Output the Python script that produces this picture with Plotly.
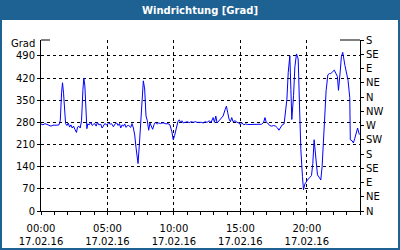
import plotly.graph_objects as go
import pandas as pd

# ---- data ----
hours = [0.0, 0.15, 0.3, 0.45, 0.6, 0.75, 0.9, 1.05, 1.2, 1.35, 1.45, 1.55, 1.62, 1.7, 1.78, 1.85,
         1.95, 2.05, 2.15, 2.25, 2.35, 2.45, 2.55, 2.67, 2.75, 2.85, 2.95, 3.05, 3.15, 3.22, 3.3, 3.38,
         3.45, 3.52, 3.62, 3.75, 3.85, 3.95, 4.05, 4.15, 4.25, 4.35, 4.5, 4.6, 4.7, 4.8, 4.95, 5.1,
         5.2, 5.3, 5.45, 5.55, 5.7, 5.8, 5.9, 6.0, 6.1, 6.2, 6.3, 6.4, 6.5, 6.6, 6.75, 6.85, 6.95,
         7.05, 7.15, 7.3, 7.4, 7.5, 7.6, 7.7, 7.8, 7.9, 8.0, 8.1, 8.2, 8.3, 8.4, 8.5, 8.6, 8.75, 8.85,
         9.0, 9.1, 9.25, 9.4, 9.55, 9.7, 9.85, 9.95, 10.05, 10.15, 10.3, 10.4, 10.5, 10.6, 10.7, 10.85,
         11.0, 11.15, 11.3, 11.45, 11.6, 11.75, 11.9, 12.05, 12.2, 12.35, 12.5, 12.65, 12.8, 12.95,
         13.05, 13.15, 13.25, 13.4, 13.55, 13.7, 13.85, 13.95, 14.05, 14.15, 14.25, 14.35, 14.45,
         14.6, 14.75, 14.9, 15.0, 15.1, 15.25, 15.4, 15.55, 15.7, 15.85, 16.0, 16.15, 16.3, 16.45,
         16.6, 16.75, 16.85, 16.95, 17.05, 17.2, 17.35, 17.5, 17.65, 17.8, 17.9, 18.0, 18.15, 18.29,
         18.4, 18.5, 18.6, 18.72, 18.8, 18.87, 19.0, 19.1, 19.22, 19.35, 19.45, 19.55, 19.67, 19.75,
         19.85, 19.95, 20.05, 20.2, 20.35, 20.45, 20.55, 20.65, 20.8, 20.95, 21.05, 21.15, 21.25,
         21.35, 21.45, 21.58, 21.7, 21.8, 21.95, 22.07, 22.19, 22.3, 22.38, 22.45, 22.52, 22.6, 22.7,
         22.87, 23.0, 23.1, 23.23, 23.27, 23.4, 23.5, 23.6, 23.7, 23.82, 23.95]

direction = [275, 272, 276, 273, 270, 268, 271, 270, 271, 272, 285, 375, 405, 370, 290, 276,
             270, 278, 265, 272, 262, 268, 258, 248, 265, 268, 262, 285, 380, 420, 395, 340,
             260, 275, 272, 280, 270, 274, 276, 268, 280, 272, 274, 262, 270, 276, 272, 278,
             274, 276, 266, 274, 278, 270, 276, 262, 272, 268, 275, 264, 270, 270, 264, 276, 262,
             240, 200, 150, 210, 280, 380, 411, 385, 300, 285, 255, 278, 265, 258, 272, 280, 275, 278,
             276, 278, 278, 275, 276, 272, 250, 225, 238, 260, 282, 288, 280, 285, 278, 280,
             282, 279, 282, 280, 282, 280, 281, 280, 278, 282, 280, 285, 280, 295,
             280, 300, 278, 285, 290, 300, 320, 331, 310, 290, 282, 295, 282,
             285, 280, 278, 272, 280, 272, 275, 273, 273, 273, 273, 273, 273, 273,
             274, 280, 295, 280, 278, 270, 268, 270, 268, 262, 255, 262, 272, 275,
             315, 353, 437, 490, 384, 289, 364, 455, 496, 480, 332, 194, 109, 67,
             85, 93, 98, 105, 112, 150, 225, 180, 114, 105, 98, 140, 215,
             300, 380, 430, 434, 434, 440, 445, 434, 425, 381, 405, 445, 487, 501,
             459, 434, 413, 358, 225, 222, 215, 228, 241, 262, 241]

left_ticks = [0, 70, 140, 210, 280, 350, 420, 490]
compass_vals = [0, 45, 90, 135, 180, 225, 270, 315, 360, 405, 450, 495, 540]
compass_text = ["N", "NE", "E", "SE", "S", "SW", "W", "NW", "N", "NE", "E", "SE", "S"]

times = pd.Timestamp("2016-02-17 00:00") + pd.to_timedelta(hours, unit="h")

# ---- layout geometry (pixels) ----
W, H = 400, 250
L, R, T, B = 41, 40, 40, 39
PW, PH = W - L - R, H - T - B


def px(xp):
    return (xp - L) / PW


def py(yp):
    return (H - B - yp) / PH


BLUE = "#1e6193"
FONT = "DejaVu Sans"

fig = go.Figure()
fig.add_trace(go.Scatter(x=times, y=direction, mode="lines",
                         line=dict(color="#0000ff", width=1),
                         showlegend=False, hoverinfo="skip"))
fig.add_trace(go.Scatter(x=times, y=direction, mode="lines", yaxis="y2",
                         line=dict(color="rgba(0,0,0,0)", width=0),
                         showlegend=False, hoverinfo="skip"))

fig.update_layout(
    width=W, height=H, autosize=False,
    margin=dict(l=L, r=R, t=T, b=B, pad=0, autoexpand=False),
    paper_bgcolor="white", plot_bgcolor="white",
    font=dict(family=FONT, size=10, color="black"),
    title=dict(text="Windrichtung [Grad]", x=0.5, xanchor="center",
               y=1 - 10.5 / H, yanchor="middle", yref="container",
               automargin=False,
               font=dict(family=FONT, size=10, color="white", weight="bold")),
    xaxis=dict(
        type="date", automargin=False,
        range=["2016-02-17 00:00", "2016-02-18 00:00"],
        tick0="2016-02-17 00:00", dtick=5 * 3600 * 1000,
        tickformat="%H:%M<br>%d.%m.%y",
        showline=True, linecolor="black", linewidth=1,
        ticks="outside", ticklen=3, tickcolor="black",
        ticklabelstandoff=5,
        showgrid=True, gridcolor="black", gridwidth=1, griddash="3px,3px",
        minor=dict(dtick=3600 * 1000, ticks="outside", ticklen=3,
                   tickcolor="black", showgrid=False),
        zeroline=False, fixedrange=True,
        tickfont=dict(family=FONT, size=10, color="black"),
    ),
    yaxis=dict(
        range=[0, 540], tickvals=left_ticks, automargin=False,
        showline=True, linecolor="black", linewidth=1,
        ticks="outside", ticklen=3, tickcolor="black",
        showgrid=True, gridcolor="black", gridwidth=1, griddash="3px,3px",
        zeroline=False, fixedrange=True,
        tickfont=dict(family=FONT, size=10, color="black"),
    ),
    yaxis2=dict(
        range=[0, 540], tickvals=compass_vals, ticktext=compass_text,
        overlaying="y", side="right", automargin=False,
        showline=True, linecolor="black", linewidth=1,
        ticks="outside", ticklen=3, tickcolor="black",
        showgrid=False, zeroline=False, fixedrange=True,
        tickfont=dict(family=FONT, size=10, color="black"),
    ),
    shapes=[
        dict(type="rect", xref="paper", yref="paper", layer="below",
             x0=px(0), x1=px(W), y0=py(20), y1=py(0),
             fillcolor=BLUE, line=dict(width=0)),
        dict(type="rect", xref="paper", yref="paper", layer="above",
             x0=px(1), x1=px(W - 1), y0=py(H - 1), y1=py(1),
             fillcolor="rgba(0,0,0,0)", line=dict(color=BLUE, width=2)),
        dict(type="line", xref="paper", yref="paper", layer="above",
             x0=0, x1=px(50), y0=1, y1=1, line=dict(color="black", width=1)),
        dict(type="line", xref="paper", yref="paper", layer="above",
             x0=px(340), x1=1, y0=1, y1=1, line=dict(color="black", width=1)),
    ],
    annotations=[
        dict(text="Grad", xref="paper", yref="paper", x=px(37), y=py(43),
             xanchor="right", yanchor="middle", showarrow=False,
             font=dict(family=FONT, size=10, color="black")),
    ],
)

fig.write_html("out.html")
